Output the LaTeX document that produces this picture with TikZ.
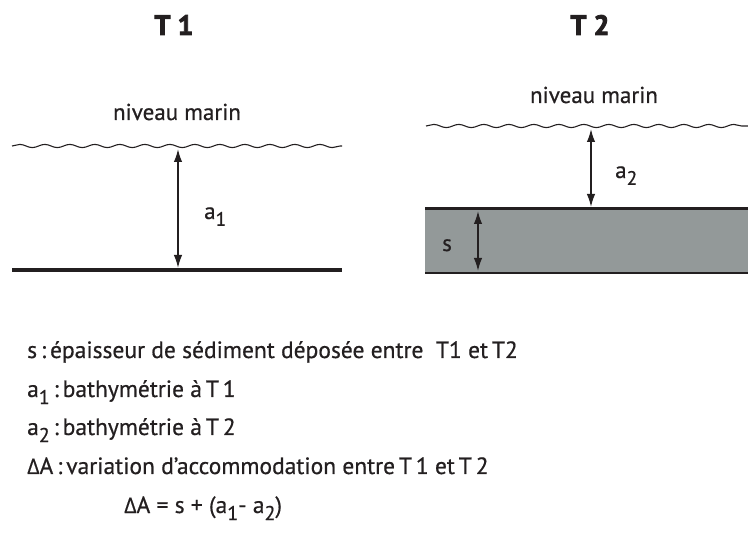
\documentclass[tikz,border=0pt]{standalone}
\usepackage{fontspec}
\setmainfont{PT Sans}[FakeBold=0.6]
\newfontfamily\ttlfont{PT Sans}[UprightFont={* Bold}, FakeBold=3]
\newfontfamily\grk{Open Sans}[FakeBold=0.6]
\usetikzlibrary{decorations.pathmorphing,arrows.meta}
\definecolor{ink}{RGB}{35,31,32}
\definecolor{sed}{RGB}{147,153,153}
\newcommand{\mysub}[1]{\raisebox{-0.3em}{\fontsize{0.85em}{1em}\selectfont #1}}
\newcommand{\DA}{{\grk\fontsize{0.92em}{1em}\selectfont Δ}A}
\tikzset{
  title/.style={font=\fontsize{28}{32}\selectfont\ttlfont, text=ink, anchor=base, inner sep=0pt},
  lbl/.style={font=\fontsize{23}{26}\selectfont, text=ink, anchor=base, inner sep=0pt},
  txt/.style={font=\fontsize{23.5}{26}\selectfont, text=ink, anchor=base west, inner sep=0pt},
  wave/.style={draw=ink, line width=1.1pt, decorate, decoration={snake, segment length=25pt, amplitude=1.6pt}},
  dbl/.style={draw=ink, line width=1.6pt, {Latex[length=13pt,width=8.5pt]}-{Latex[length=13pt,width=8.5pt]}},
}
\begin{document}
\begin{tikzpicture}[x=1pt,y=-1pt]
\useasboundingbox (0,0) rectangle (748,540);
% titles
\node[title] (t1) at (174,35) {T 1};
\node[title] (t2) at (590,35) {T 2};
% left panel
\node[lbl] (nm1) at (177,120) {niveau marin};
\coordinate (w1a) at (12,146);
\coordinate (w1b) at (342,146);
\draw[wave] (w1a) -- (w1b);
\coordinate (f1a) at (12,270);
\coordinate (f1b) at (342,270);
\draw[ink, line width=4pt] (f1a) -- (f1b);
\coordinate (a1top) at (178,149);
\coordinate (a1bot) at (178,268);
\draw[dbl] (a1top) -- (a1bot);
\node[lbl, anchor=base west] (la1) at (204,219) {a\mysub{1}};
% right panel
\node[lbl] (nm2) at (594,103) {niveau marin};
\coordinate (w2a) at (426,126);
\coordinate (w2b) at (748,126);
\draw[wave] (w2a) -- (w2b);
\fill[sed] (425,209) rectangle (748,273);
\coordinate (s2a) at (425,209);
\coordinate (s2b) at (748,209);
\coordinate (b2a) at (425,273);
\coordinate (b2b) at (748,273);
\draw[ink, line width=3pt] (s2a) -- (s2b);
\draw[ink, line width=1.5pt] (b2a) -- (b2b);
\coordinate (a2top) at (591,129);
\coordinate (a2bot) at (591,207);
\draw[dbl] (a2top) -- (a2bot);
\node[lbl, anchor=base west] (la2) at (615,178) {a\mysub{2}};
\coordinate (stop) at (478,211);
\coordinate (sbot) at (478,271);
\draw[dbl] (stop) -- (sbot);
\node[lbl, anchor=base west] (ls) at (442,251) {s};
% legend
\node[txt] (l1) at (27,358) {s\,:\,épaisseur de sédiment déposée entre~ T1 et\,T2};
\node[txt] (l2) at (27,397) {a\mysub{1}\,:\,bathymétrie à\,T\,1};
\node[txt] (l3) at (27,435) {a\mysub{2}\,:\,bathymétrie à\,T\,2};
\node[txt] (l4) at (27,474) {\DA\,:\,variation d\char"0027accommodation entre\,T\,1 et\,T\,2};
\node[txt] (l5) at (124,513) {\DA{} = s + (a\mysub{1}- a\mysub{2})};
\end{tikzpicture}
\end{document}
